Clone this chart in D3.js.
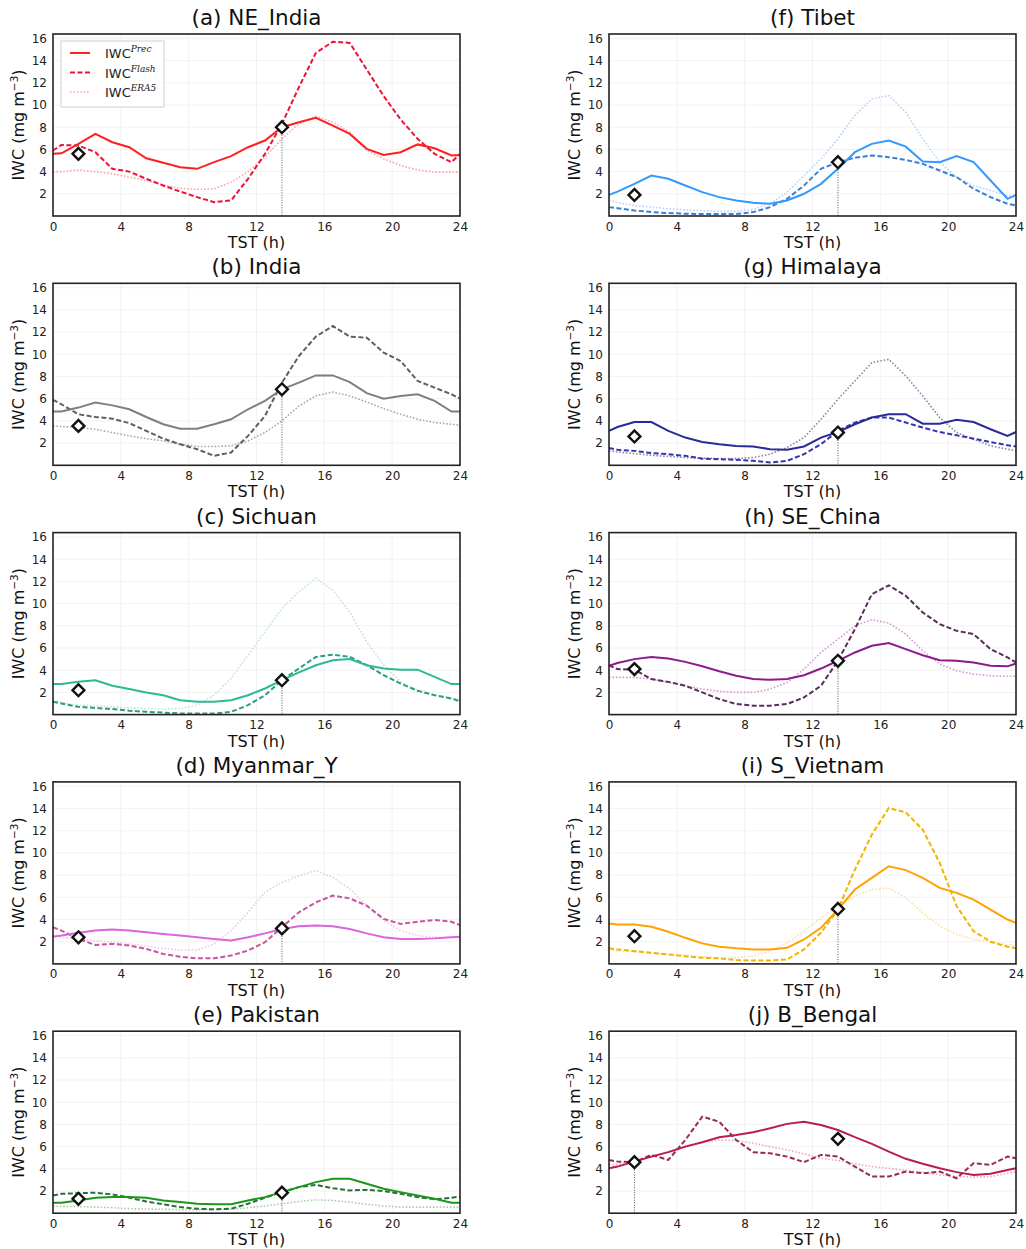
<!DOCTYPE html>
<html>
<head>
<meta charset="utf-8">
<script src="https://cdn.jsdelivr.net/npm/d3@7"></script>
<style>
  html, body { margin: 0; padding: 0; background: #fff; }
  svg { display: block; font-family: "DejaVu Sans", sans-serif; }
</style>
</head>
<body>
<svg id="chart" width="1026" height="1249"></svg>
<script>
// Diurnal cycle of ice water content (IWC) in ten regions, local solar time (TST)
const hours = [0, 0.5, 1.5, 2.5, 3.5, 4.5, 5.5, 6.5, 7.5, 8.5, 9.5, 10.5, 11.5,
               12.5, 13.5, 14.5, 15.5, 16.5, 17.5, 18.5, 19.5, 20.5, 21.5, 22.5, 23.5, 24];

const regions = ["NE_India", "India", "Sichuan", "Myanmar_Y", "Pakistan",
                 "Tibet", "Himalaya", "SE_China", "S_Vietnam", "B_Bengal"];
const letters = ["a", "b", "c", "d", "e", "f", "g", "h", "i", "j"];

const xTicks = [0, 4, 8, 12, 16, 20, 24];
const yTicks = [2, 4, 6, 8, 10, 12, 14, 16];

// IWC from precipitation-based estimate (solid)
const precNEIndia  = [5.6,5.65,6.5,7.4,6.65,6.2,5.2,4.8,4.4,4.25,4.85,5.4,6.2,6.8,8.0,8.45,8.85,8.15,7.4,6.05,5.5,5.75,6.45,6.1,5.45,5.5];
const precIndia    = [4.85,4.85,5.2,5.65,5.4,5.05,4.35,3.7,3.3,3.3,3.7,4.15,5.05,5.8,6.85,7.45,8.1,8.1,7.5,6.5,6.0,6.25,6.4,5.8,4.85,4.85];
const precSichuan  = [2.75,2.75,2.95,3.1,2.6,2.3,2.0,1.75,1.3,1.15,1.15,1.3,1.75,2.35,3.1,3.8,4.45,4.9,5.0,4.45,4.15,4.05,4.05,3.4,2.75,2.75];
const precMyanmar  = [2.45,2.55,2.8,3.0,3.1,3.0,2.85,2.7,2.55,2.4,2.25,2.1,2.4,2.75,3.15,3.4,3.45,3.4,3.15,2.75,2.4,2.25,2.25,2.3,2.4,2.45];
const precPakistan = [0.95,0.95,1.15,1.4,1.45,1.45,1.4,1.15,1.0,0.85,0.8,0.8,1.15,1.45,1.9,2.35,2.8,3.1,3.1,2.65,2.2,1.9,1.6,1.3,0.95,0.95];
const precTibet    = [1.9,2.2,2.9,3.65,3.35,2.75,2.15,1.7,1.4,1.2,1.1,1.4,2.0,2.9,4.25,5.75,6.5,6.8,6.25,4.9,4.85,5.4,4.85,3.2,1.55,1.9];
const precHimalaya = [3.1,3.45,3.9,3.9,3.1,2.5,2.1,1.9,1.75,1.7,1.45,1.4,1.7,2.5,3.0,3.7,4.3,4.6,4.6,3.75,3.75,4.1,3.9,3.25,2.65,3.0];
const precSEChina  = [4.4,4.65,5.0,5.2,5.05,4.75,4.35,3.9,3.5,3.2,3.15,3.2,3.55,4.15,4.85,5.6,6.2,6.45,5.9,5.35,4.9,4.85,4.7,4.4,4.35,4.6];
const precSVietnam = [3.65,3.55,3.55,3.35,2.9,2.35,1.85,1.55,1.4,1.3,1.3,1.45,2.2,3.25,4.9,6.7,7.75,8.8,8.45,7.75,6.85,6.4,5.8,4.9,4.0,3.7];
const precBBengal  = [4.05,4.2,4.65,5.1,5.5,6.0,6.4,6.85,7.05,7.3,7.65,8.05,8.25,7.95,7.5,6.85,6.25,5.55,4.9,4.45,4.05,3.7,3.45,3.55,3.9,4.05];

// IWC from lightning flash-based estimate (dashed)
const flashNEIndia  = [5.9,6.4,6.35,5.75,4.25,4.0,3.35,2.75,2.2,1.7,1.25,1.4,3.35,5.6,8.3,11.6,14.7,15.7,15.6,13.2,10.8,8.7,6.95,5.6,4.85,5.6];
const flashIndia    = [5.9,5.5,4.6,4.35,4.2,3.8,3.1,2.4,1.9,1.45,0.85,1.15,2.65,4.45,7.45,9.85,11.6,12.55,11.6,11.5,10.15,9.4,7.6,7.0,6.4,6.0];
const flashSichuan  = [1.15,1.0,0.7,0.6,0.5,0.35,0.25,0.18,0.1,0.1,0.1,0.25,0.85,1.75,3.1,4.15,5.2,5.4,5.2,4.45,3.55,2.8,2.15,1.75,1.45,1.2];
const flashMyanmar  = [3.3,3.0,2.25,1.7,1.8,1.65,1.35,0.9,0.65,0.5,0.5,0.75,1.2,1.95,3.3,4.65,5.55,6.15,5.9,5.25,4.05,3.6,3.8,3.95,3.8,3.5];
const flashPakistan = [1.6,1.75,1.8,1.85,1.7,1.4,1.05,0.8,0.55,0.4,0.35,0.4,0.85,1.4,1.9,2.35,2.55,2.25,2.05,2.1,2.0,1.75,1.45,1.25,1.4,1.5];
const flashTibet    = [0.8,0.7,0.5,0.35,0.27,0.2,0.18,0.18,0.18,0.35,0.8,1.55,2.75,4.25,4.85,5.25,5.45,5.3,5.05,4.7,4.1,3.5,2.45,1.7,1.1,0.95];
const flashHimalaya = [1.55,1.4,1.3,1.1,1.0,0.85,0.6,0.55,0.5,0.4,0.25,0.4,1.0,1.9,3.1,3.85,4.3,4.3,3.85,3.4,3.0,2.7,2.4,2.1,1.8,1.7];
const flashSEChina  = [4.45,4.1,4.05,3.2,2.95,2.6,2.0,1.4,0.95,0.8,0.8,0.95,1.55,2.6,4.85,7.7,10.85,11.65,10.7,9.2,8.15,7.55,7.25,5.9,5.15,4.7];
const flashSVietnam = [1.4,1.3,1.15,1.0,0.85,0.7,0.55,0.5,0.35,0.3,0.3,0.4,1.3,2.8,4.9,8.5,11.65,14.05,13.65,12.1,9.1,5.2,2.95,2.0,1.55,1.4];
const flashBBengal  = [4.8,4.65,4.6,5.25,4.8,6.6,8.7,8.25,6.6,5.5,5.4,5.1,4.6,5.25,5.1,4.2,3.3,3.3,3.75,3.6,3.75,3.15,4.5,4.35,5.1,4.95];

// IWC from ERA5 reanalysis (dotted)
const era5NEIndia  = [4.0,4.0,4.15,4.0,3.8,3.5,3.2,2.8,2.5,2.4,2.45,3.05,4.0,5.3,6.95,8.3,9.0,8.45,7.55,5.9,5.15,4.55,4.15,3.95,3.95,3.95];
const era5India    = [3.55,3.5,3.4,3.25,2.95,2.65,2.4,2.2,1.9,1.7,1.7,1.75,2.2,2.95,4.0,5.35,6.25,6.6,6.25,5.7,5.1,4.6,4.15,3.85,3.7,3.6];
const era5Sichuan  = [1.3,1.1,0.85,0.8,0.7,0.6,0.55,0.5,0.55,0.85,1.75,3.25,5.35,7.45,9.55,11.05,12.3,11.2,9.25,6.55,4.45,2.95,2.2,1.8,1.5,1.3];
const era5Myanmar  = [2.55,2.4,2.2,2.1,1.95,1.8,1.6,1.4,1.25,1.25,1.8,3.0,4.65,6.45,7.35,7.95,8.4,7.8,6.75,5.25,3.9,3.0,2.55,2.4,2.4,2.4];
const era5Pakistan = [0.65,0.62,0.6,0.55,0.5,0.4,0.38,0.35,0.32,0.3,0.32,0.35,0.5,0.65,0.85,1.05,1.2,1.15,1.0,0.8,0.65,0.55,0.55,0.55,0.55,0.55];
const era5Tibet    = [1.4,1.2,0.95,0.8,0.65,0.55,0.48,0.42,0.42,0.6,1.1,2.15,3.65,5.15,6.95,9.05,10.55,10.85,9.35,6.95,4.85,3.5,2.75,2.3,1.85,1.7];
const era5Himalaya = [1.3,1.2,1.05,0.9,0.8,0.7,0.65,0.6,0.6,0.7,1.0,1.6,2.5,4.15,5.95,7.6,9.25,9.55,8.05,6.25,4.3,2.95,2.35,1.75,1.45,1.3];
const era5SEChina  = [3.35,3.35,3.35,3.2,2.9,2.6,2.3,2.1,2.0,2.0,2.3,2.9,4.1,5.6,6.8,8.0,8.55,8.25,7.25,5.75,4.55,3.95,3.65,3.5,3.45,3.45];
const era5SVietnam = [1.3,1.15,1.1,0.95,0.85,0.8,0.65,0.55,0.55,0.7,1.15,1.9,2.95,4.15,5.2,6.1,6.7,6.85,5.95,4.6,3.4,2.65,2.2,2.0,1.75,1.6];
const era5BBengal  = [4.35,4.4,4.65,5.1,5.55,6.0,6.4,6.6,6.55,6.3,6.0,5.7,5.35,4.95,4.75,4.45,4.2,4.05,3.85,3.7,3.45,3.3,3.25,3.3,3.6,3.75];

// Observed reference points at 01:30 and 13:30 TST
const markerHours = [1.5, 13.5];
const obsEarly = [5.6, 3.55, 2.2, 2.4, 1.3, 1.9, 2.6, 4.1, 2.5, 4.6];
const obsLate  = [8.0, 6.85, 3.1, 3.2, 1.85, 4.85, 2.95, 4.85, 4.95, 6.7];
// Hour marked with a vertical guide in each panel
const guideHour = [13.5, 13.5, 13.5, 13.5, 13.5, 13.5, 13.5, 13.5, 13.5, 1.5];

const precSeries  = [precNEIndia, precIndia, precSichuan, precMyanmar, precPakistan, precTibet, precHimalaya, precSEChina, precSVietnam, precBBengal];
const flashSeries = [flashNEIndia, flashIndia, flashSichuan, flashMyanmar, flashPakistan, flashTibet, flashHimalaya, flashSEChina, flashSVietnam, flashBBengal];
const era5Series  = [era5NEIndia, era5India, era5Sichuan, era5Myanmar, era5Pakistan, era5Tibet, era5Himalaya, era5SEChina, era5SVietnam, era5BBengal];

// Line colours per region: [solid, dashed, dotted]
const palette = [
  ["#ff1f1f", "#ec1238", "#ffa3b3"],
  ["#7f7f7f", "#5f5f5f", "#a9a9a9"],
  ["#2cb996", "#2a9d80", "#c4e2db"],
  ["#dc64dc", "#c8559e", "#efc6ef"],
  ["#1b961b", "#2a6e3a", "#a9cfa9"],
  ["#3399ff", "#3a7fd4", "#b8d4f7"],
  ["#2a2a98", "#3434b0", "#8a8aa6"],
  ["#8b1a8b", "#5a2d5a", "#d49ad4"],
  ["#ffa200", "#f2b400", "#ffdf9e"],
  ["#b71f4a", "#9a2a55", "#f0a8c0"]
];

const svg = d3.select("#chart");

const colX = [53, 609];
const rowY0 = 34, rowStep = 249.3;
const pw = 407, ph = 182;

const x = d3.scaleLinear().domain([0, 24]).range([0, pw]);
const y = d3.scaleLinear().domain([0, 16.4]).range([ph, 0]);

const line = d3.line().x(d => x(d[0])).y(d => y(d[1]));

regions.forEach((name, i) => {
  const col = i < 5 ? 0 : 1;
  const row = i % 5;
  const g = svg.append("g")
    .attr("transform", `translate(${colX[col]},${(rowY0 + row * rowStep).toFixed(1)})`);

  // light grid
  g.append("g").selectAll("line.gx").data(xTicks.slice(1, -1)).join("line")
    .attr("x1", d => x(d)).attr("x2", d => x(d)).attr("y1", 0).attr("y2", ph)
    .attr("stroke", "#efefef").attr("stroke-width", 0.8);
  g.append("g").selectAll("line.gy").data(yTicks).join("line")
    .attr("x1", 0).attr("x2", pw).attr("y1", d => y(d)).attr("y2", d => y(d))
    .attr("stroke", "#efefef").attr("stroke-width", 0.8);

  // axes (labels only, no tick marks)
  const xAxis = g.append("g").attr("transform", `translate(0,${ph})`)
    .call(d3.axisBottom(x).tickValues(xTicks).tickSize(0).tickPadding(6).tickFormat(d3.format("d")));
  const yAxis = g.append("g")
    .call(d3.axisLeft(y).tickValues(yTicks).tickSize(0).tickPadding(6).tickFormat(d3.format("d")));
  [xAxis, yAxis].forEach(a => {
    a.select(".domain").remove();
    a.selectAll("text").attr("font-size", 12).attr("fill", "#222")
      .attr("font-family", "DejaVu Sans, sans-serif");
  });

  const data = h => hours.map((t, k) => [t, h[k]]);
  const c = palette[i];

  // ERA5 (dotted)
  g.append("path").datum(data(era5Series[i])).attr("d", line)
    .attr("fill", "none").attr("stroke", c[2]).attr("stroke-width", 1.6)
    .attr("stroke-dasharray", "1.6,1.8");
  // Flash (dashed)
  g.append("path").datum(data(flashSeries[i])).attr("d", line)
    .attr("fill", "none").attr("stroke", c[1]).attr("stroke-width", 2)
    .attr("stroke-dasharray", "5,2.5");
  // Precipitation (solid)
  g.append("path").datum(data(precSeries[i])).attr("d", line)
    .attr("fill", "none").attr("stroke", c[0]).attr("stroke-width", 2);

  // guide line beneath one observed point
  const obs = [obsEarly[i], obsLate[i]];
  const gi = markerHours.indexOf(guideHour[i]);
  g.append("line")
    .attr("x1", x(guideHour[i])).attr("x2", x(guideHour[i]))
    .attr("y1", y(obs[gi])).attr("y2", ph)
    .attr("stroke", "#555").attr("stroke-width", 1).attr("stroke-dasharray", "1,1.5");

  // observed points (diamonds)
  const sym = d3.symbol().type(d3.symbolSquare).size(70);
  g.selectAll("path.obs").data(markerHours.map((h, k) => [h, obs[k]])).join("path")
    .attr("class", "obs")
    .attr("d", sym)
    .attr("transform", d => `translate(${x(d[0])},${y(d[1])}) rotate(45)`)
    .attr("fill", "#fff").attr("stroke", "#111").attr("stroke-width", 2.4);

  // frame
  g.append("rect").attr("x", 0).attr("y", 0).attr("width", pw).attr("height", ph)
    .attr("fill", "none").attr("stroke", "#222").attr("stroke-width", 1.6);

  // title
  g.append("text").attr("x", pw / 2).attr("y", -9).attr("text-anchor", "middle")
    .attr("font-size", 21.5).attr("fill", "#111")
    .text(`(${letters[i]}) ${name}`);

  // axis titles
  g.append("text").attr("x", pw / 2).attr("y", ph + 32).attr("text-anchor", "middle")
    .attr("font-size", 16).attr("fill", "#111").text("TST (h)");
  const yl = g.append("text")
    .attr("transform", `translate(-29,${ph / 2}) rotate(-90)`)
    .attr("text-anchor", "middle").attr("font-size", 16).attr("fill", "#111");
  yl.append("tspan").text("IWC (mg m");
  yl.append("tspan").attr("font-size", 10.5).attr("dy", -6).text("\u22123");
  yl.append("tspan").attr("dy", 6).text(")");

  // legend in the first panel
  if (i === 0) {
    const lg = g.append("g").attr("transform", "translate(8,7)");
    lg.append("rect").attr("width", 103).attr("height", 66)
      .attr("fill", "#fff").attr("stroke", "#cfcfcf").attr("stroke-width", 1);
    const entries = [["Prec", "", c[0], 2], ["Flash", "5,2.5", c[1], 2], ["ERA5", "1.6,1.8", c[2], 1.6]];
    entries.forEach((e, k) => {
      const yy = 12 + k * 19.5;
      lg.append("line").attr("x1", 9).attr("x2", 29).attr("y1", yy).attr("y2", yy)
        .attr("stroke", e[2]).attr("stroke-width", e[3])
        .attr("stroke-dasharray", e[1] || null);
      const t = lg.append("text").attr("x", 44).attr("y", yy + 5)
        .attr("font-size", 13).attr("fill", "#222");
      t.append("tspan").text("IWC");
      t.append("tspan").attr("dy", -6).attr("font-size", 9)
        .attr("font-style", "italic").attr("font-family", "DejaVu Serif, serif").text(e[0]);
    });
  }
});
</script>
</body>
</html>
